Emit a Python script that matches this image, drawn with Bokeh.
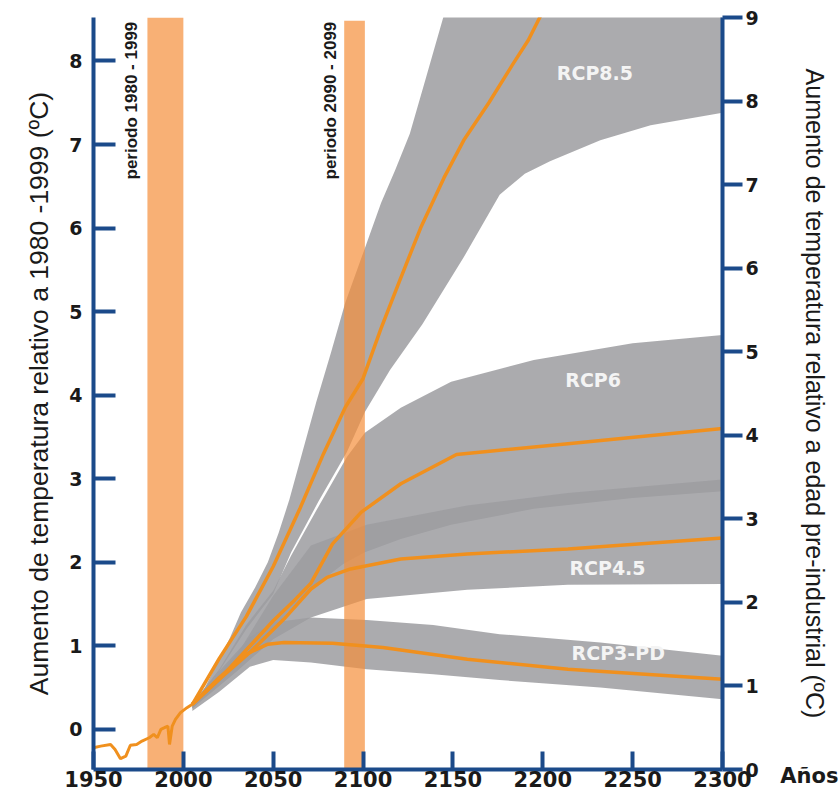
import math
from bokeh.plotting import figure
from bokeh.models import Range1d, LinearAxis, FixedTicker, Title
from bokeh.core.properties import value
from bokeh.embed import file_html
from bokeh.resources import INLINE

# ---------------- data ----------------
hist_years = [1950, 1954, 1959.5, 1962, 1965, 1968, 1970.5, 1974, 1977, 1981, 1983.5, 1985.5,
              1987.5, 1989.5, 1991.4, 1992.3, 1993.8, 1995.6, 1998.4, 2002, 2005]
hist_vals = [-0.22, -0.2, -0.18, -0.24, -0.35, -0.32, -0.19, -0.18, -0.14, -0.10, -0.06, -0.10,
             0.0, 0.02, 0.04, -0.18, 0.04, 0.12, 0.20, 0.26, 0.30]

# RCP8.5
r85_lo_years = [2005, 2020, 2035, 2050, 2060, 2075, 2091, 2101, 2115, 2133, 2156, 2176, 2190, 2204, 2232, 2260, 2300]
r85_lower = [0.28, 0.70, 1.20, 1.62, 2.12, 2.72, 3.32, 3.80, 4.30, 4.85, 5.65, 6.40, 6.65, 6.80, 7.05, 7.23, 7.38]
r85_hi_years = [2005, 2012, 2019, 2026, 2032, 2040, 2047, 2053, 2059, 2066, 2074, 2082, 2090, 2100, 2110,
                2118, 2126, 2135, 2145, 2155, 2300]
r85_upper = [0.30, 0.50, 0.80, 1.10, 1.40, 1.70, 2.00, 2.35, 2.75, 3.30, 3.92, 4.50, 5.10, 5.70, 6.30,
             6.70, 7.13, 7.80, 8.55, 9.20, 9.80]
r85_years = [2005, 2020, 2035, 2050, 2065, 2078, 2090, 2100, 2110, 2120, 2132, 2145, 2156, 2170, 2183, 2192, 2199, 2210]
r85_vals = [0.30, 0.85, 1.35, 1.95, 2.65, 3.30, 3.85, 4.20, 4.80, 5.35, 6.00, 6.60, 7.05, 7.50, 7.95, 8.25, 8.55, 9.00]

# RCP6
r6_hi_years = [2005, 2020, 2035, 2050, 2060, 2075, 2091, 2101, 2121, 2149, 2195, 2250, 2300]
r6_upper = [0.30, 0.72, 1.25, 1.66, 2.08, 2.66, 3.26, 3.55, 3.85, 4.16, 4.42, 4.62, 4.72]
r6_lo_years = [2005, 2020, 2035, 2050, 2060, 2075, 2089, 2101, 2121, 2149, 2195, 2250, 2300]
r6_lower = [0.25, 0.55, 0.85, 1.20, 1.45, 1.75, 1.98, 2.12, 2.28, 2.45, 2.64, 2.77, 2.85]
r6_years = [2005, 2020, 2035, 2050, 2062, 2071, 2083, 2099, 2121, 2152, 2214, 2300]
r6_vals = [0.30, 0.60, 0.95, 1.30, 1.55, 1.75, 2.22, 2.60, 2.94, 3.29, 3.42, 3.60]

# RCP4.5
r45_band_years = [2005, 2030, 2050, 2071, 2102, 2158, 2214, 2300]
r45_lower = [0.25, 0.70, 1.08, 1.34, 1.56, 1.67, 1.73, 1.74]
r45_upper = [0.30, 0.90, 1.60, 2.20, 2.45, 2.68, 2.83, 2.99]
r45_years = [2005, 2020, 2037, 2056, 2071, 2080, 2093, 2121, 2158, 2214, 2300]
r45_vals = [0.30, 0.60, 0.92, 1.32, 1.68, 1.82, 1.92, 2.04, 2.10, 2.16, 2.29]

# RCP3-PD
r3_band_years = [2005, 2020, 2037, 2050, 2071, 2102, 2139, 2176, 2232, 2300]
r3_upper = [0.30, 0.70, 1.10, 1.28, 1.34, 1.31, 1.25, 1.14, 1.04, 0.88]
r3_lower = [0.22, 0.45, 0.75, 0.83, 0.80, 0.72, 0.66, 0.59, 0.50, 0.36]
r3_years = [2005, 2020, 2035, 2047, 2056, 2083, 2111, 2158, 2214, 2300]
r3_vals = [0.30, 0.62, 0.90, 1.02, 1.04, 1.03, 0.98, 0.84, 0.72, 0.60]

# reference periods
period_left = [1980, 2089.5]
period_right = [2000, 2101]
period_top = [8.52, 8.48]
period_text = ["periodo 1980 - 1999", "periodo 2090 - 2099"]
period_text_x = [1971, 2082]
period_text_y = [8.47, 8.47]

scen_names = ["RCP8.5", "RCP6", "RCP4.5", "RCP3-PD"]
scen_x = [2229, 2228, 2236, 2242]
scen_y = [7.85, 4.18, 1.93, 0.91]

x_ticks = [1950, 2000, 2050, 2100, 2150, 2200, 2250, 2300]
left_ticks = [0, 1, 2, 3, 4, 5, 6, 7, 8]
right_ticks = [0, 1, 2, 3, 4, 5, 6, 7, 8, 9]
x_unit_label = "Años"

# ---------------- styles ----------------
AXIS = "#1B4A8A"
ORANGE = "#F0901E"
GRAY = "#9C9CA0"
BAR = "#F58E3B"
TXT = "#1a1a1a"

p = figure(width=840, height=794, x_range=Range1d(1950, 2300), y_range=Range1d(-0.48, 8.52),
           output_backend="svg", toolbar_location=None,
           min_border_left=93, min_border_right=118, min_border_top=17, min_border_bottom=25)
p.outline_line_color = None
p.grid.visible = False
p.background_fill_color = "white"
p.extra_y_ranges = {"pre": Range1d(0, 9)}

# bands
for xl, lo, xh, hi in [(r85_lo_years, r85_lower, r85_hi_years, r85_upper),
                       (r6_lo_years, r6_lower, r6_hi_years, r6_upper),
                       (r45_band_years, r45_lower, r45_band_years, r45_upper),
                       (r3_band_years, r3_lower, r3_band_years, r3_upper)]:
    p.patch(x=list(xh) + list(xl)[::-1], y=list(hi) + list(lo)[::-1],
            fill_color=GRAY, fill_alpha=0.85, line_color=None)

# period bars
p.quad(left=period_left, right=period_right, bottom=[-0.48, -0.48], top=period_top,
       fill_color=BAR, fill_alpha=0.7, line_color=None)

# median lines
for yrs, vals in [(r85_years, r85_vals), (r6_years, r6_vals), (r45_years, r45_vals), (r3_years, r3_vals)]:
    p.line(yrs, vals, line_color=ORANGE, line_width=3.5)
p.line(hist_years, hist_vals, line_color=ORANGE, line_width=3)

# texts
p.text(x=period_text_x, y=period_text_y, text=period_text, angle=math.pi / 2,
       text_align="right", text_baseline="middle", text_color=TXT,
       text_font=value("Liberation Sans"), text_font_style="bold", text_font_size="17px")
p.text(x=scen_x, y=scen_y, text=scen_names, text_align="center", text_baseline="middle",
       text_color="#F4F4F4", text_font=value("DejaVu Sans"), text_font_style="bold",
       text_font_size="19px")

# axes
def style(ax, size):
    ax.axis_line_color = AXIS
    ax.axis_line_width = 4
    ax.major_tick_line_color = AXIS
    ax.major_tick_line_width = 4
    ax.minor_tick_line_color = None
    ax.major_label_text_font = "DejaVu Sans"
    ax.major_label_text_font_style = "bold"
    ax.major_label_text_font_size = size
    ax.major_label_text_color = TXT

xa = p.xaxis[0]
style(xa, "21px")
xa.ticker = FixedTicker(ticks=x_ticks)
xa.major_tick_in = 18
xa.major_tick_out = 0
xa.major_label_standoff = 1

ya = p.yaxis[0]
style(ya, "19px")
ya.ticker = FixedTicker(ticks=left_ticks)
ya.major_tick_in = 22
ya.major_tick_out = 0
ya.major_label_standoff = 11
ya.axis_label = "Aumento de temperatura relativo a 1980 -1999 (ºC)"
ya.axis_label_text_font = "Liberation Sans"
ya.axis_label_text_font_style = "normal"
ya.axis_label_text_font_size = "26.5px"
ya.axis_label_text_color = TXT
ya.axis_label_standoff = 12

ra = LinearAxis(y_range_name="pre")
style(ra, "19px")
ra.ticker = FixedTicker(ticks=right_ticks)
ra.major_tick_in = 0
ra.major_tick_out = 20
ra.major_label_standoff = 3
ra.axis_label = "Aumento de temperatura relativo a edad pre-industrial (ºC)"
ra.axis_label_text_font = "Liberation Sans"
ra.axis_label_text_font_style = "normal"
ra.axis_label_text_font_size = "25px"
ra.axis_label_text_color = TXT
ra.axis_label_standoff = 39
p.add_layout(ra, "right")

# "Años" unit text beside the x tick labels (zero-height title panel after the x axis)
anos = Title(text=x_unit_label, align="right", vertical_align="top", offset=-116, standoff=-52,
             text_font="DejaVu Sans", text_font_style="bold", text_font_size="21px",
             text_color=TXT)
p.add_layout(anos, "below")

open("out.html", "w").write(file_html(p, INLINE))
